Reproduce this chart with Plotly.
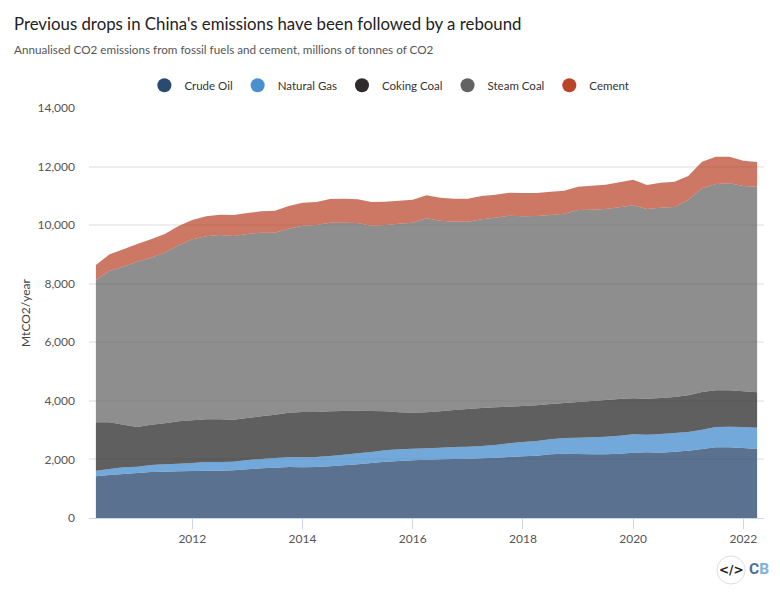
import numpy as np
import plotly.graph_objects as go

years = [2010.25 + 0.25 * i for i in range(49)]

# Upper edge of each stacked band (MtCO2/year)
top_oil = [1423,1469,1503,1537,1571,1583,1594,1605,1617,1617,1628,1662,1696,1719,1742,1730,
           1742,1765,1799,1833,1878,1924,1947,1969,1992,2004,2015,2026,2038,2060,2083,2106,
           2129,2174,2197,2186,2174,2174,2197,2231,2243,2231,2265,2299,2356,2413,2413,2390,2356]
top_gas = [1617,1674,1730,1753,1810,1833,1856,1878,1912,1912,1924,1981,2015,2049,2072,2072,
           2083,2117,2163,2208,2254,2311,2345,2368,2379,2402,2425,2436,2459,2493,2550,2595,
           2629,2686,2732,2743,2754,2777,2812,2857,2846,2868,2903,2937,3016,3107,3119,3107,3085]
top_coking = [3267,3267,3187,3107,3187,3233,3301,3335,3369,3369,3358,3415,3472,3528,3597,3620,
              3620,3642,3654,3665,3654,3642,3608,3597,3608,3642,3688,3722,3756,3779,3802,3824,
              3847,3893,3927,3961,3995,4029,4063,4086,4075,4097,4132,4189,4302,4359,4359,4325,4291]
top_steam = [8128,8446,8583,8754,8890,9061,9311,9516,9618,9664,9630,9698,9744,9744,9880,9983,
             10005,10085,10085,10074,9983,10005,10051,10085,10233,10153,10119,10119,10199,10256,10324,10301,
             10313,10347,10392,10518,10529,10552,10609,10677,10552,10597,10620,10859,11257,11405,11428,11337,11314]
top_cement = [8640,9004,9175,9357,9516,9698,9971,10176,10301,10358,10347,10415,10472,10495,10654,10768,
              10791,10893,10904,10882,10791,10802,10836,10870,11018,10939,10905,10905,10996,11041,11109,11098,
              11098,11143,11178,11314,11348,11382,11462,11553,11371,11451,11485,11678,12168,12338,12338,12202,12156]

names = ["Crude Oil", "Natural Gas", "Coking Coal", "Steam Coal", "Cement"]
tops = [top_oil, top_gas, top_coking, top_steam, top_cement]
solid = ["#2b4a6f", "#4a8fd0", "#2f2b2c", "#636363", "#b9442a"]
fills = ["rgba(43,74,111,0.78)", "rgba(74,143,208,0.78)", "rgba(50,50,50,0.78)",
         "rgba(99,99,99,0.72)", "rgba(185,68,42,0.72)"]

FONT = "Lato"
fig = go.Figure()
prev = np.zeros(49)
for name, top, fc in zip(names, tops, fills):
    top = np.array(top, dtype=float)
    fig.add_trace(go.Scatter(x=years, y=top - prev, name=name, stackgroup="one",
                             mode="none", fillcolor=fc, showlegend=False))
    prev = top
for name, c in zip(names, solid):
    fig.add_trace(go.Scatter(x=[None], y=[None], name=name, mode="markers",
                             marker=dict(color=c, size=14)))

fig.update_layout(
    width=780, height=608, margin=dict(l=81, r=24, t=100, b=98),
    paper_bgcolor="white", plot_bgcolor="white",
    font=dict(family=FONT, color="#4a4a4a", size=12),
    showlegend=True,
    legend=dict(orientation="h", x=0.445, xanchor="center", xref="paper",
                y=1.02, yanchor="bottom", font=dict(size=11.5, color="#333333"),
                itemwidth=30, traceorder="normal"),
    xaxis=dict(range=[2010.125, 2022.375], tickvals=list(range(2012, 2023, 2)),
               ticktext=[str(y) for y in range(2012, 2023, 2)], showgrid=False, zeroline=False,
               showline=True, linecolor="#ccd6eb", linewidth=1,
               ticks="outside", ticklen=10, tickcolor="#ccd6eb",
               tickfont=dict(size=12, color="#555555")),
    yaxis=dict(range=[0, 14000], tickvals=list(range(0, 14001, 2000)), tickformat=",",
               showgrid=True, gridcolor="#eeeeee", gridwidth=2, zeroline=False,
               ticks="", ticklabelstandoff=13, tickfont=dict(size=12, color="#555555"), automargin=False,
               title=dict(text="MtCO2/year", font=dict(size=12, color="#444444"), standoff=4)),
    annotations=[
        dict(text="Previous drops in China's emissions have been followed by a rebound",
             xref="paper", yref="paper", x=(12-89)/675, y=(518-23)/410, showarrow=False,
             xanchor="left", yanchor="middle", font=dict(size=16.8, color="#222222", family=FONT)),
        dict(text="Annualised CO2 emissions from fossil fuels and cement, millions of tonnes of CO2",
             xref="paper", yref="paper", x=(12-89)/675, y=(518-49)/410, showarrow=False,
             xanchor="left", yanchor="middle", font=dict(size=11.7, color="#555555", family=FONT)),
        dict(text="<b>&lt;/&gt;</b>", xref="paper", yref="paper", x=(731-89)/675, y=(518-570)/410,
             xanchor="center", yanchor="middle",
             showarrow=False, font=dict(size=12, color="#222222", family="DejaVu Sans")),
        dict(text="<b>C</b><b style='color:#7fb0dc'>B</b>", xref="paper", yref="paper",
             x=(759-89)/675, y=(518-569)/410, xanchor="center", yanchor="middle", showarrow=False,
             font=dict(size=15.5, color="#4a6f9c", family="Roboto")),
    ],
    shapes=[dict(type="circle", xref="paper", yref="paper",
                 x0=(717-89)/675, x1=(745-89)/675, y0=(518-584)/410, y1=(518-556)/410,
                 line=dict(color="#e3dcdc", width=1), fillcolor="white", layer="below")],
)
fig.write_html("out.html")
